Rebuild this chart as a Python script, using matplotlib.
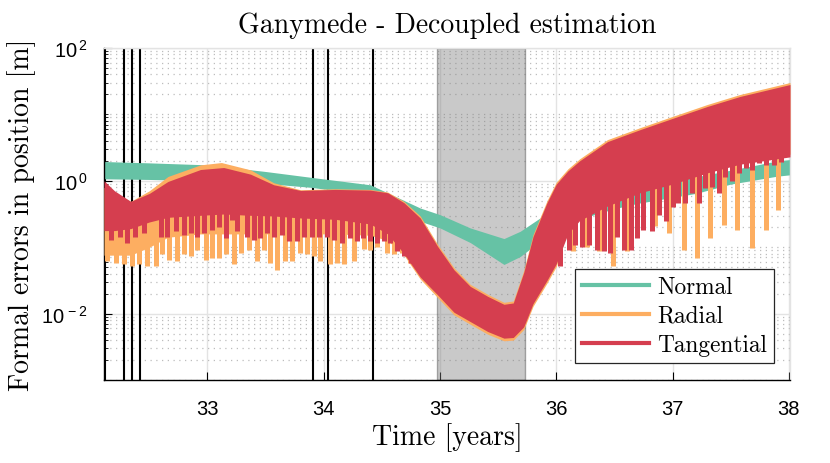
import numpy as np
import matplotlib
matplotlib.use('Agg')
import matplotlib.pyplot as plt
from matplotlib.lines import Line2D

# ---- data (y given as log10 of metres) ----
event_t = [32.117, 32.278, 32.355, 32.421, 33.905, 34.038, 34.427]
shade_t = [34.97, 35.73]

normal_t = [32.11, 32.5, 33.0, 33.5, 33.9, 34.4, 34.83, 35.0, 35.26, 35.55,
            35.69, 35.86, 36.0, 36.5, 36.7, 37.2, 37.5, 37.9, 38.01]
normal_hi = [0.29, 0.27, 0.24, 0.14, 0.05, -0.06, -0.41, -0.51, -0.71, -0.87,
             -0.76, -0.56, -0.42, -0.17, -0.09, 0.06, 0.16, 0.30, 0.32]
normal_lo = [0.03, 0.02, 0.0, -0.04, -0.10, -0.22, -0.61, -0.71, -0.93, -1.26,
             -1.14, -0.91, -0.68, -0.42, -0.34, -0.19, -0.05, 0.07, 0.09]

radial_t = [32.11, 32.2, 32.34, 32.5, 32.66, 32.94, 33.12, 33.37, 33.57, 33.8,
            34.1, 34.4, 34.55, 34.69, 34.83, 34.98, 35.12, 35.26, 35.41, 35.55,
            35.63, 35.72, 35.8, 35.92, 36.0, 36.1, 36.2, 36.44, 36.72, 37.0,
            37.3, 37.58, 38.01]
radial_hi = [-0.1, -0.18, -0.31, -0.15, 0.065, 0.24, 0.275, 0.165, -0.03, -0.135,
             -0.12, -0.13, -0.17, -0.31, -0.53, -0.96, -1.31, -1.56, -1.71, -1.83,
             -1.81, -1.35, -0.81, -0.30, -0.02, 0.18, 0.33, 0.62, 0.80, 0.97,
             1.15, 1.30, 1.48]
radial_lo = [-1.12, -1.12, -1.12, -1.0, -0.85, -0.8, -0.8, -0.8, -0.8, -0.8,
             -0.8, -0.82, -0.9, -1.12, -1.48, -1.76, -2.02, -2.16, -2.31, -2.41,
             -2.40, -2.24, -1.89, -1.54, -1.29, -0.73, -0.53, -0.31, -0.13, 0.0,
             0.17, 0.29, 0.40]

tang_t = [32.11, 32.2, 32.34, 32.5, 32.66, 32.94, 33.14, 33.37, 33.57, 33.8,
          34.1, 34.4, 34.55, 34.69, 34.83, 34.98, 35.12, 35.26, 35.41, 35.55,
          35.63, 35.72, 35.8, 35.92, 36.0, 36.1, 36.2, 36.44, 36.72, 37.0,
          37.3, 37.58, 38.01]
tang_hi = [0.0, -0.15, -0.31, -0.19, -0.01, 0.17, 0.2, 0.1, -0.06, -0.145,
           -0.13, -0.14, -0.18, -0.33, -0.56, -0.99, -1.34, -1.59, -1.74, -1.86,
           -1.84, -1.38, -0.84, -0.33, -0.05, 0.15, 0.3, 0.59, 0.77, 0.94,
           1.12, 1.27, 1.45]
tang_lo = [-0.75, -0.75, -0.72, -0.62, -0.55, -0.52, -0.5, -0.52, -0.53, -0.56,
           -0.58, -0.65, -0.8, -1.1, -1.45, -1.72, -1.98, -2.12, -2.27, -2.37,
           -2.36, -2.2, -1.85, -1.5, -1.25, -0.8, -0.6, -0.38, -0.18, -0.05,
           0.12, 0.25, 0.36]

# downward spikes (time, tip)
radial_spike_t = [32.137, 32.209, 32.28, 32.352, 32.41, 32.48, 32.553, 32.61, 32.668,
                  32.74, 32.797, 32.854, 32.91, 32.983, 33.04, 33.097, 33.155, 33.226,
                  33.284, 33.355, 33.427, 33.484, 33.542, 33.60, 33.67, 33.728, 33.80,
                  33.857, 33.914, 33.97, 34.058, 34.115, 34.172, 34.258, 34.344, 34.40,
                  34.459, 34.545, 34.602, 34.674, 34.745,
                  36.14, 36.26, 36.365, 36.49, 36.61, 36.85, 36.97, 37.095, 37.21,
                  37.325, 37.44, 37.55, 37.68, 37.80, 37.91]
radial_spike_tip = [-1.21, -1.24, -1.26, -1.29, -1.26, -1.29, -1.29, -1.11, -1.19,
                    -1.21, -1.11, -1.14, -1.04, -1.19, -1.16, -1.16, -1.11, -1.26,
                    -1.09, -1.04, -1.21, -1.04, -1.24, -1.34, -1.21, -1.21, -1.09,
                    -1.11, -1.14, -1.21, -1.26, -1.24, -1.26, -1.21, -1.02, -1.04,
                    -0.99, -1.09, -1.11, -1.09, -1.24,
                    -1.06, -0.99, -1.06, -1.29, -1.06, -0.68, -0.78, -1.04, -1.16,
                    -0.86, -0.66, -0.74, -1.01, -0.74, -0.44]

tang_spike_t = [32.166, 32.25, 32.31, 32.38, 32.45, 32.596, 32.65, 32.725, 32.797,
                32.854, 32.91, 32.97, 33.04, 33.10, 33.155, 33.21, 33.255, 33.34,
                33.40, 33.455, 33.51, 33.57, 33.64, 33.70, 33.77, 33.83, 33.90,
                33.96, 34.03, 34.09, 34.16, 34.23, 34.29, 34.34, 34.40, 34.46,
                34.52, 34.57, 34.63, 34.69, 34.75,
                36.035, 36.11, 36.16, 36.22, 36.28, 36.35, 36.41, 36.465, 36.52,
                36.58, 36.64, 36.69, 36.75, 36.82, 36.88, 36.94, 37.0, 37.05,
                37.11, 37.17, 37.225, 37.28, 37.34, 37.40, 37.45, 37.51, 37.57,
                37.63, 37.68, 37.74, 37.80, 37.87, 37.93]
tang_spike_tip = [-0.89, -0.84, -0.94, -0.84, -0.79, -0.84, -0.84, -0.76, -0.81,
                  -0.79, -0.84, -0.79, -0.74, -0.69, -0.86, -0.59, -0.76, -0.84,
                  -0.89, -0.86, -0.79, -0.84, -0.81, -0.91, -0.91, -0.84, -0.84,
                  -0.84, -0.84, -0.89, -0.94, -0.86, -0.91, -0.86, -0.91, -0.94,
                  -0.91, -0.94, -1.06, -1.14, -1.24,
                  -1.29, -1.04, -0.97, -0.99, -0.97, -1.04, -1.06, -1.08, -0.84,
                  -1.04, -1.04, -0.86, -0.74, -0.76, -0.51, -0.61, -0.39, -0.34,
                  -0.34, -0.19, -0.34, -0.11, -0.09, -0.19, 0.06, -0.01, 0.11,
                  0.19, 0.16, 0.27, 0.24, 0.24, 0.29]

labels = ['Normal', 'Radial', 'Tangential']
colors = ['#66c2a5', '#fdae61', '#d53e4f']

plt.rcParams['mathtext.fontset'] = 'custom'
plt.rcParams['mathtext.rm'] = 'Liberation Sans'
plt.rcParams['mathtext.it'] = 'Liberation Sans:italic'
serif = 'cmr10'
sans = 'Liberation Sans'


def pw(a):
    return np.power(10.0, np.asarray(a, dtype=float))


fig = plt.figure(figsize=(8.3, 4.64), dpi=100)
ax = fig.add_axes([0.1253, 0.1789, 0.8265, 0.7155])

# background elements
ax.set_axisbelow(True)
ax.axvspan(shade_t[0], shade_t[1], facecolor='#7f7f7f', alpha=0.42,
           edgecolor='#404040', lw=1.0, zorder=0.7)
for t in event_t:
    ax.axvline(t, color='black', lw=1.5, zorder=1)

# bands
ax.fill_between(normal_t, pw(normal_lo), pw(normal_hi), color=colors[0], lw=0, zorder=2)

ax.fill_between(radial_t, pw(radial_lo), pw(radial_hi), color=colors[1], lw=0, zorder=3)
rtop = np.interp(radial_spike_t, radial_t, radial_lo) + 0.08
rtop = np.maximum(rtop, np.interp(radial_spike_t, tang_t, tang_lo) + 0.08)
ax.vlines(radial_spike_t, pw(radial_spike_tip), pw(rtop), color=colors[1], lw=3.6, zorder=3)

ax.fill_between(tang_t, pw(tang_lo), pw(tang_hi), color=colors[2], lw=0, zorder=4)
ttop = np.interp(tang_spike_t, tang_t, tang_lo) + 0.08
ax.vlines(tang_spike_t, pw(tang_spike_tip), pw(ttop), color=colors[2], lw=3.6, zorder=4)

# axes
ax.set_yscale('log')
ax.set_xlim(32.11, 38.01)
ax.set_ylim(1e-3, 1e2)
ax.set_xticks([33, 34, 35, 36, 37, 38])
ax.set_xticklabels(['33', '34', '35', '36', '37', '38'])
ax.set_yticks([1e-2, 1e0, 1e2])
ax.set_yticklabels([r'$10^{\,-2}$', r'$10^{\,0}$', r'$10^{\,2}$'])
minor = [m * 10.0 ** d for d in range(-3, 2) for m in range(1, 10)]
minor = [v for v in minor if v not in (1e-2, 1e0)]
ax.set_yticks(minor, minor=True)
ax.set_yticklabels([], minor=True)
ax.tick_params(which='both', direction='in', top=False, right=False, color='black')
ax.tick_params(which='major', length=6, width=0.8, labelsize=14.5)
ax.tick_params(axis='x', which='major', pad=14)
ax.tick_params(axis='y', which='major', pad=12)
ax.tick_params(which='minor', length=3, width=0.6)
for lab in ax.get_xticklabels() + ax.get_yticklabels():
    lab.set_fontfamily(sans)

ax.grid(True, which='major', color='#e3e3e3', lw=1.0, ls='-')
ax.grid(True, which='minor', axis='y', color='#bdbdbd', lw=0.9, ls=(0, (1, 3.6)))

ax.spines['left'].set_color('black')
ax.spines['bottom'].set_color('black')
ax.spines['top'].set_color('#e3e3e3')
ax.spines['right'].set_color('#e3e3e3')
for s in ax.spines.values():
    s.set_linewidth(1.0)

ax.set_title('Ganymede - Decoupled estimation', family=serif, fontsize=20, pad=11.5)
ax.set_xlabel('Time [years]', family=serif, fontsize=20)
ax.set_ylabel('Formal errors in position [m]', family=serif, fontsize=20)
ax.xaxis.set_label_coords(0.5, -0.128)
ax.yaxis.set_label_coords(-0.099, 0.5)

handles = [Line2D([], [], color=c, lw=3) for c in colors]
leg = ax.legend(handles, labels, loc='lower right', bbox_to_anchor=(0.977, 0.051),
                borderaxespad=0, prop={'family': serif, 'size': 16.8},
                handlelength=2.9, handletextpad=0.35, labelspacing=0.3,
                borderpad=0.3, fancybox=False, framealpha=1)
leg.get_frame().set_edgecolor('#262626')
leg.get_frame().set_linewidth(0.9)
leg.set_zorder(10)

fig.savefig('out.png', dpi=100)
